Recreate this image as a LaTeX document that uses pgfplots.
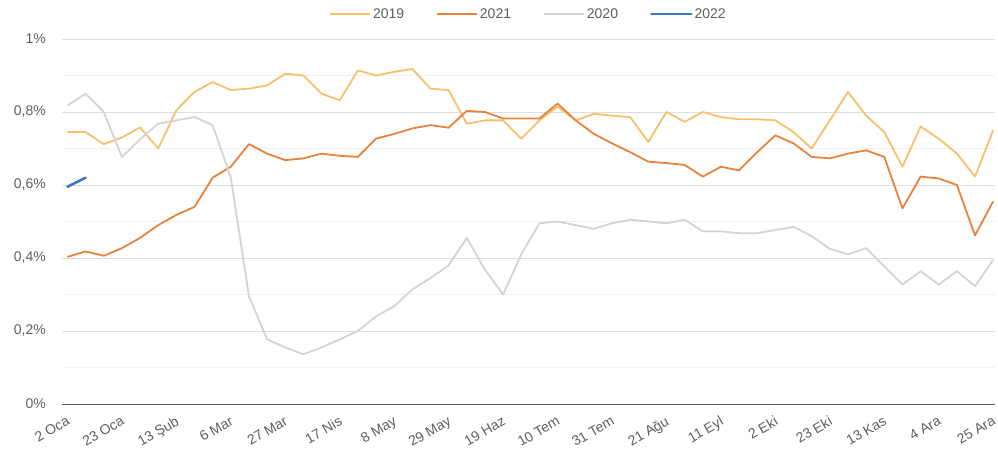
\documentclass[border=0pt]{standalone}
\usepackage{fontspec}
\setmainfont{Liberation Sans}
\usepackage{pgfplots}
\pgfplotsset{compat=1.18}
\usepackage{pgfplotstable}

\definecolor{c2019}{RGB}{246,193,108}
\definecolor{c2021}{RGB}{232,130,60}
\definecolor{c2020}{RGB}{212,212,212}
\definecolor{c2022}{RGB}{60,118,196}
\definecolor{gridmaj}{RGB}{222,222,222}
\definecolor{gridmin}{RGB}{240,240,240}
\definecolor{labgray}{RGB}{95,95,95}

% week index, 2019, 2021, 2020 (percent)
\pgfplotstableread{
i  a2019  a2021  a2020
0  0.745  0.403  0.818
1  0.745  0.418  0.850
2  0.712  0.406  0.800
3  0.730  0.427  0.677
4  0.758  0.455  0.725
5  0.700  0.490  0.768
6  0.805  0.518  0.777
7  0.855  0.540  0.786
8  0.882  0.620  0.764
9  0.860  0.650  0.620
10 0.864  0.712  0.295
11 0.873  0.686  0.177
12 0.905  0.668  0.155
13 0.900  0.673  0.136
14 0.850  0.686  0.155
15 0.832  0.680  0.177
16 0.914  0.677  0.200
17 0.900  0.727  0.240
18 0.910  0.740  0.268
19 0.918  0.755  0.314
20 0.864  0.764  0.345
21 0.860  0.757  0.380
22 0.768  0.803  0.455
23 0.777  0.800  0.368
24 0.777  0.782  0.300
25 0.727  0.782  0.410
26 0.777  0.782  0.495
27 0.815  0.823  0.500
28 0.777  0.777  0.490
29 0.795  0.740  0.480
30 0.790  0.714  0.495
31 0.786  0.690  0.505
32 0.718  0.664  0.500
33 0.800  0.660  0.495
34 0.773  0.655  0.505
35 0.800  0.623  0.473
36 0.786  0.650  0.473
37 0.780  0.640  0.468
38 0.780  0.690  0.468
39 0.777  0.736  0.477
40 0.745  0.714  0.485
41 0.700  0.677  0.460
42 0.777  0.673  0.425
43 0.855  0.686  0.410
44 0.790  0.695  0.427
45 0.745  0.677  0.377
46 0.650  0.536  0.327
47 0.760  0.623  0.364
48 0.727  0.618  0.327
49 0.686  0.600  0.364
50 0.623  0.462  0.323
51 0.750  0.555  0.395
}\weekly

\begin{document}
\begin{tikzpicture}
\useasboundingbox (-62pt,-62pt) rectangle (936pt,404pt);
\begin{axis}[
    at={(0,0)}, anchor=south west,
    scale only axis,
    width=933pt, height=365pt,
    xmin=-0.3, xmax=51.1,
    ymin=0, ymax=1,
    xtick={0,3,...,51},
    xticklabels={2 Oca,23 Oca,13 Şub,6 Mar,27 Mar,17 Nis,8 May,29 May,19 Haz,10 Tem,31 Tem,21 Ağu,11 Eyl,2 Eki,23 Eki,13 Kas,4 Ara,25 Ara},
    ytick={0,0.2,0.4,0.6,0.8,1},
    yticklabels={0\%,{0,2\%},{0,4\%},{0,6\%},{0,8\%},1\%},
    minor ytick={0.1,0.3,0.5,0.7,0.9},
    ymajorgrids, yminorgrids,
    major grid style={gridmaj, line width=0.8pt},
    minor grid style={gridmin, line width=0.8pt},
    major tick length=0pt, minor tick length=0pt,
    axis line style={draw=none},
    tick label style={font=\fontsize{14}{16}\selectfont, text=labgray},
    yticklabel style={anchor=east, inner sep=0pt, xshift=-16pt},
    xticklabel style={rotate=30, anchor=north east, inner sep=0pt, xshift=-7pt, yshift=-9pt},
    clip=false,
    legend columns=4,
    legend style={at={(0.5,1)}, anchor=south, yshift=15pt, draw=none, fill=none,
        font=\fontsize{14}{16}\selectfont, text=labgray,
        /tikz/every even column/.append style={column sep=30pt}},
    legend image code/.code={\draw[#1] (0pt,0pt) -- (40pt,0pt);},
]
\draw[gray!70!black, line width=1pt] (axis cs:-0.3,0) -- (axis cs:51.1,0);
\addplot[c2019, line width=1.8pt, line join=round] table[x=i, y=a2019] {\weekly};
\addlegendentry{2019}
\addplot[c2021, line width=1.8pt, line join=round] table[x=i, y=a2021] {\weekly};
\addlegendentry{2021}
\addplot[c2020, line width=1.8pt, line join=round] table[x=i, y=a2020] {\weekly};
\addlegendentry{2020}
\addplot[c2022, line width=2.6pt, line cap=round] coordinates {(0,0.595) (1,0.620)};
\addlegendentry{2022}
\end{axis}
\end{tikzpicture}
\end{document}
